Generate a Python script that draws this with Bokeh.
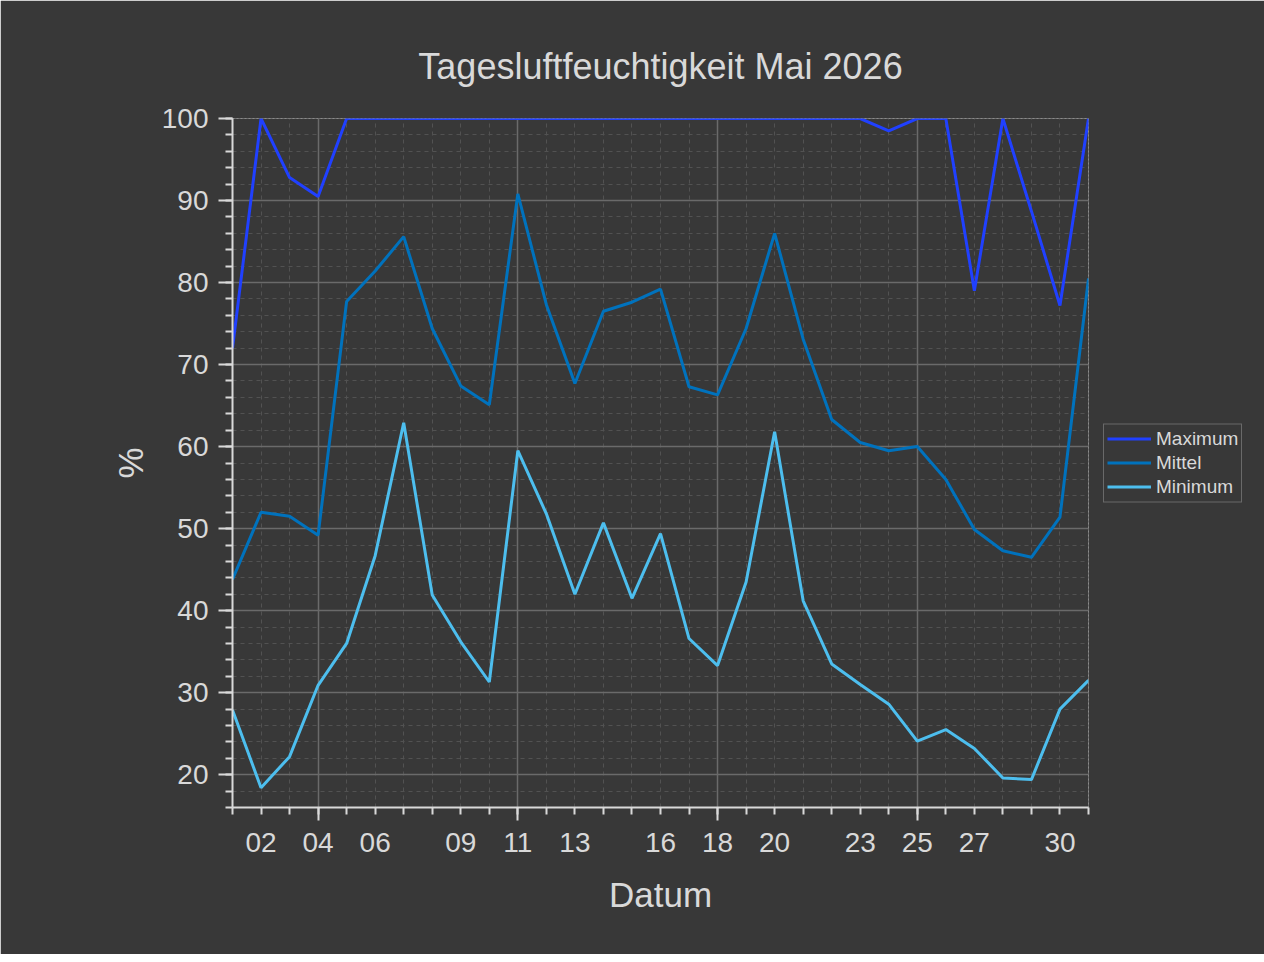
from bokeh.plotting import figure
from bokeh.models import (Range1d, FixedTicker, SingleIntervalTicker, LinearAxis,
                          Legend, LegendItem, CustomLabelingPolicy)
from bokeh.embed import file_html
from bokeh.resources import INLINE

# ---- data ----
days = list(range(1, 32))
maximum = [72.0, 100, 92.8, 90.5, 100, 100, 100, 100, 100, 100, 100, 100, 100, 100, 100,
           100, 100, 100, 100, 100, 100, 100, 100, 98.5, 100, 100, 79.0, 100, 88.7, 77.2, 100]
mittel = [43.8, 52.0, 51.5, 49.2, 77.7, 81.4, 85.6, 74.4, 67.4, 65.1, 90.8, 77.3, 67.7, 76.5,
          77.6, 79.2, 67.3, 66.3, 74.4, 86.0, 73.1, 63.3, 60.5, 59.5, 60.0, 56.0, 49.9, 47.3,
          46.5, 51.4, 80.5]
minimum = [27.9, 18.4, 22.2, 30.9, 36.0, 46.7, 62.9, 41.9, 36.2, 31.3, 59.5, 51.8, 42.0, 50.7,
           41.5, 49.4, 36.6, 33.3, 43.5, 61.8, 41.2, 33.5, 31.0, 28.6, 24.1, 25.5, 23.2, 19.6,
           19.4, 28.0, 31.5]
label_days = [2, 4, 6, 9, 11, 13, 16, 18, 20, 23, 25, 27, 30]
week_days = [4, 11, 18, 25]
series_names = ["Maximum", "Mittel", "Minimum"]
series_colors = ["#2040ff", "#0072bd", "#4dbeee"]

BG = "#383838"
FG = "#d9d9d9"
FONT = "Liberation Sans"

p = figure(frame_width=856, frame_height=689, output_backend="svg", toolbar_location=None,
           x_range=Range1d(1, 31), y_range=Range1d(16, 100),
           min_border_left=232, min_border_right=169, min_border_top=118,
           min_border_bottom=147)
p.background_fill_color = BG
p.border_fill_color = BG
p.outline_line_color = "#8a8a8a"
p.outline_line_dash = "2 2"
p.outline_line_width = 1

p.title.text = "Tagesluftfeuchtigkeit Mai 2026"
p.title.align = "center"
p.title.text_font = FONT
p.title.text_font_size = "36px"
p.title.text_font_style = "normal"
p.title.text_color = FG
p.title.standoff = 64

# y axis
yt = SingleIntervalTicker(interval=10, num_minor_ticks=5)
ya = p.yaxis[0]
ya.ticker = yt
ya.axis_line_color = FG
ya.axis_line_width = 2
ya.major_tick_line_color = FG
ya.major_tick_line_width = 2
ya.minor_tick_line_color = FG
ya.minor_tick_line_width = 2
ya.major_tick_out = 14
ya.major_tick_in = 0
ya.minor_tick_out = 7
ya.minor_tick_in = 0
ya.major_label_standoff = 10
ya.major_label_text_font = FONT
ya.major_label_text_font_size = "28px"
ya.major_label_text_color = FG
ya.axis_label = "%"
ya.axis_label_text_font = FONT
ya.axis_label_text_font_size = "35px"
ya.axis_label_text_font_style = "normal"
ya.axis_label_text_color = FG
ya.axis_label_standoff = 9

# x axis (ticks only: long weekly ticks, short daily ticks)
xa = p.xaxis[0]
xa.ticker = FixedTicker(ticks=week_days, minor_ticks=days)
xa.axis_line_color = FG
xa.axis_line_width = 2
xa.major_tick_line_color = FG
xa.major_tick_line_width = 2
xa.minor_tick_line_color = FG
xa.minor_tick_line_width = 2
xa.major_tick_out = 13
xa.major_tick_in = 0
xa.minor_tick_out = 7
xa.minor_tick_in = 0
xa.major_label_policy = CustomLabelingPolicy(code="return []")
xa.major_label_standoff = 0

# x axis (labels)
xl = LinearAxis(ticker=FixedTicker(ticks=label_days),
                major_label_overrides={d: f"{d:02d}" for d in label_days})
xl.axis_line_color = None
xl.major_tick_line_color = None
xl.minor_tick_line_color = None
xl.major_tick_out = 0
xl.major_tick_in = 0
xl.major_label_standoff = 1
xl.major_label_text_font = FONT
xl.major_label_text_font_size = "28px"
xl.major_label_text_color = FG
xl.axis_label = "Datum"
xl.axis_label_text_font = FONT
xl.axis_label_text_font_size = "35px"
xl.axis_label_text_font_style = "normal"
xl.axis_label_text_color = FG
xl.axis_label_standoff = 20
p.add_layout(xl, "below")

# grids
p.xgrid.ticker = FixedTicker(ticks=week_days, minor_ticks=days)
p.ygrid.ticker = yt
for g in (p.xgrid[0], p.ygrid[0]):
    g.grid_line_color = "#6a6a6a"
    g.grid_line_width = 1.5
    g.minor_grid_line_color = "#525252"
    g.minor_grid_line_width = 1
    g.minor_grid_line_dash = "4 4"

renderers = []
for vals, col in zip([maximum, mittel, minimum], series_colors):
    r = p.line(days, vals, line_color=col, line_width=3)
    renderers.append(r)

legend = Legend(items=[LegendItem(label=n, renderers=[r]) for n, r in zip(series_names, renderers)],
                location="center_left")
legend.background_fill_color = BG
legend.background_fill_alpha = 1
legend.border_line_color = "#9a9a9a"
legend.border_line_width = 1.5
legend.label_text_font = FONT
legend.label_text_font_size = "19px"
legend.label_text_color = FG
legend.padding = 3
legend.margin = 15
legend.spacing = 1
legend.glyph_width = 44
legend.glyph_height = 22
legend.label_height = 23
legend.label_standoff = 5
p.add_layout(legend, "right")

open("out.html", "w").write(file_html(p, INLINE))
